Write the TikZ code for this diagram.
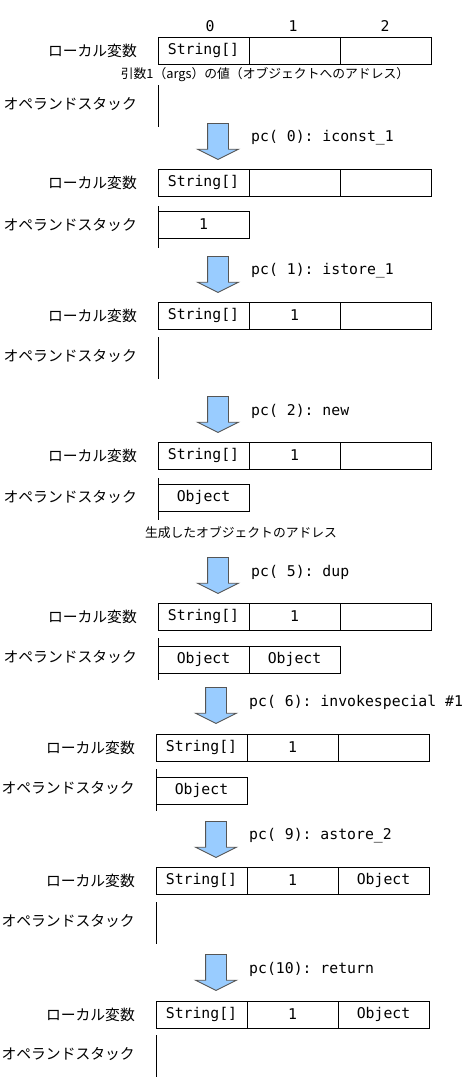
\documentclass[tikz,border=0pt]{standalone}
\usepackage{fontspec}
\setmonofont{DejaVu Sans Mono}
\newfontfamily\jpfont{Noto Sans CJK JP}
\usepackage{tikz}
\usetikzlibrary{positioning}
\usetikzlibrary{shapes,shapes.arrows}
\definecolor{arrowblue}{RGB}{153,204,255}
\definecolor{arrowline}{RGB}{85,85,85}
\tikzstyle{cell}=[rectangle,draw,line width=0.9pt,minimum width=91pt,minimum height=27pt,inner sep=0pt,outer sep=0pt,font=\fontsize{14.8}{17}\selectfont\ttfamily]
\tikzstyle{varlabel}=[inner sep=0pt,font=\fontsize{14.8}{17}\selectfont\jpfont]
\tikzstyle{note}=[inner sep=0pt,font=\fontsize{12.8}{15}\selectfont\jpfont]
\tikzstyle{steparrow}=[single arrow,draw=arrowline,fill=arrowblue,line width=0.9pt,rotate=-90,anchor=tail,minimum height=36pt,minimum width=40pt,single arrow head extend=10pt,single arrow tip angle=127,inner xsep=0pt,inner ysep=10pt]
\tikzstyle{oplabel}=[anchor=west,inner sep=0pt,font=\fontsize{14.8}{17}\selectfont\ttfamily]
\tikzstyle{stackline} = [draw,line width=0.9pt]

\begin{document}
\begin{tikzpicture}[x=1pt,y=-1pt]
 \useasboundingbox (0,0) rectangle (472,1092);

 % local variable slots
 \foreach \name/\x/\y/\a/\b/\c in {{l0/158/37/String[]/{}/{}}, {l1/158/169/String[]/{}/{}}, {l2/158/302/String[]/1/{}}, {l3/158/442/String[]/1/{}}, {l4/158/603/String[]/1/{}}, {l5/156/734/String[]/1/{}}, {l6/156/867/String[]/1/Object}, {l7/156/1001/String[]/1/Object}}
 {
   \node[cell,anchor=north west] (\name a) at (\x,\y) {\a};
   \node[cell,right=0pt of \name a] (\name b) {\b};
   \node[cell,right=0pt of \name b] (\name c) {\c};
   \node[varlabel,left=21pt of \name a] (\name lbl) {ローカル変数};
 }

 % operand stacks
 \foreach \name/\x/\y in {s0/158/85, s1/158/206, s2/158/337, s3/158/478, s4/158/638, s5/156/769, s6/156/902, s7/156/1035}
 {
   \path[stackline] (\x,\y) -- (\x,\y+42);
   \node[varlabel,anchor=east] (\name lbl) at (\x-21,\y+19) {オペランドスタック};
 }
 \node[cell,anchor=north west] (s1a) at (158,211) {1};
 \node[cell,anchor=north west] (s3a) at (158,484) {Object};
 \node[cell,anchor=north west] (s4a) at (158,646) {Object};
 \node[cell,right=0pt of s4a] (s4b) {Object};
 \node[cell,anchor=north west] (s5a) at (156,777) {Object};

 % slot numbers
 \foreach \x/\name/\label in {210/n0/0, 293/n1/1, 385/n2/2}
   \node[font=\fontsize{14.8}{17}\selectfont\ttfamily,inner sep=0pt] (\name) at (\x,26) {\label};

 \node[note] (argnote) at (265,75) {引数1（args）の値（オブジェクトへのアドレス）};
 \node[note] (objnote) at (241,533) {生成したオブジェクトのアドレス};

 % instructions
 \foreach \name/\x/\y/\op in {{a0/218/123/pc( 0): iconst\_1}, {a1/218/256/pc( 1): istore\_1}, {a2/218/396/pc( 2): new}, {a3/218/557/pc( 5): dup}, {a4/216/687/pc( 6): invokespecial \#1}, {a5/216/821/pc( 9): astore\_2}, {a6/216/954/pc(10): return}}
 {
   \node[steparrow] (\name) at (\x,\y) {};
   \node[oplabel] (\name op) at (\x+33,\y+15) {\op};
 }

\end{tikzpicture}
\end{document}
